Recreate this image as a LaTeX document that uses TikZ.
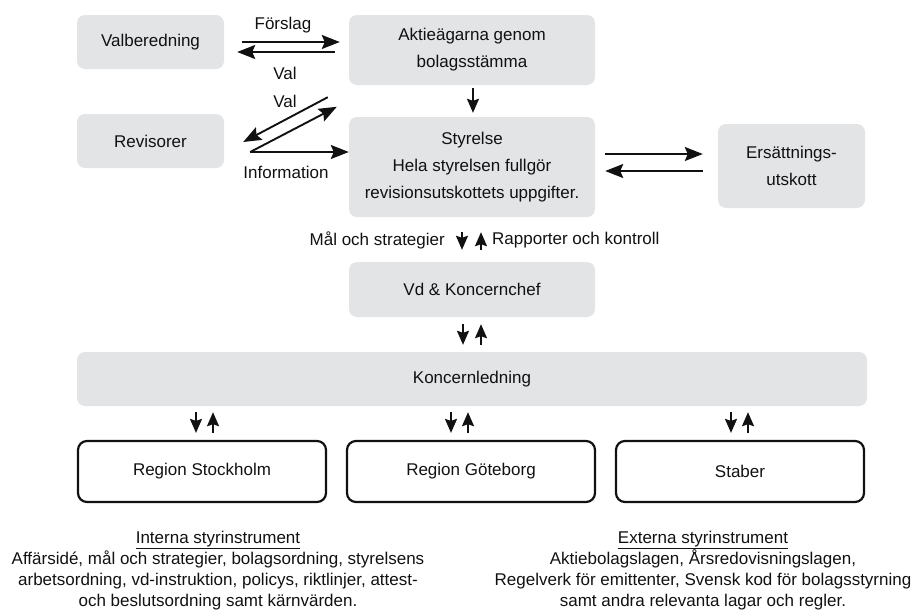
\documentclass[tikz,border=0pt]{standalone}
\usepackage{fontspec}
\setmainfont{Liberation Sans}
\usetikzlibrary{arrows.meta,calc}
\definecolor{boxgray}{HTML}{E2E4E5}
\definecolor{ink}{HTML}{111111}
\tikzstyle{box}=[fill=boxgray,rounded corners=8pt,inner sep=0pt,align=center,text=ink]
\tikzstyle{region}=[draw=ink,line width=2.2pt,rounded corners=9pt,minimum width=248pt,minimum height=61pt,inner sep=0pt,text=ink]
\tikzstyle{arr}=[draw=ink,line width=1.9pt,-{Stealth[length=18pt,width=14pt,inset=3pt]}]
\tikzstyle{small arr}=[draw=ink,line width=1.9pt,-{Stealth[length=14pt,width=12pt,inset=2pt]}]
\tikzstyle{tag}=[text=ink,inner sep=0pt]
\tikzstyle{notes}=[text=ink,inner sep=0pt,align=center,font=\fontsize{17}{21}\selectfont]

\begin{document}
\begin{tikzpicture}[x=1pt,y=-1pt,font=\fontsize{17}{27}\selectfont]
  \useasboundingbox (0,0) rectangle (914,614);
  % We draw the grey boxes
  \foreach \pos/\w/\h/\name/\txt in {{(150.5,42)/147/54/valb/Valberedning},
      {(472,50)/246/70/aktie/{Aktieägarna genom\\bolagsstämma}},
      {(150.5,141)/147/54/revis/Revisorer},
      {(472,167)/246/100/styr/{Styrelse\\Hela styrelsen fullgör\\revisionsutskottets uppgifter.}},
      {(791.5,166)/147/84/ers/{Ersättnings-\\utskott}},
      {(472,289.5)/246/55/vd/{Vd \& Koncernchef}},
      {(472,379)/790/54/koncern/Koncernledning}} {
    \node[box,minimum width=\w pt,minimum height=\h pt] (\name) at \pos {\txt};
  }
  % Then the regions
  \foreach \pos/\name/\txt in {{(202,471.5)/stock/Region Stockholm}, {(471,471.5)/gbg/Region Göteborg}, {(740,471.5)/staber/Staber}}
    \node[region] (\name) at \pos {\txt};

  % Valberedning and Revisorer
  \draw[arr] ($(valb.east)+(18,0)$) -- ($(aktie.west |- valb.east)+(-9,0)$);
  \draw[arr] ($(aktie.west |- valb.east)+(-14,10)$) -- ($(valb.east)+(13,10)$);
  \node[tag] (forslag) at (283,25) {Förslag};
  \node[tag] (val1) at (285,73) {Val};

  \coordinate (info) at ($(revis.east)+(26,11)$);
  \draw[arr] ($(aktie.south west)+(-21,12)$) -- ($(revis.east)+(19,1)$);
  \draw[arr] (info) -- ($(styr.north west)+(-12,-10)$);
  \draw[arr] (info) -- (info -| styr.west);
  \node[tag] (val2) at (285,101) {Val};
  \node[tag] (information) at (286,172) {Information};

  \draw[small arr] ($(aktie.south)+(1,3)$) -- ($(styr.north)+(1,-4)$);

  % Ersättningsutskott
  \draw[arr] ($(styr.east)+(10,-13)$) -- ($(ers.west |- styr.east)+(-15,-13)$);
  \draw[arr] ($(ers.west |- styr.east)+(-15,4)$) -- ($(styr.east)+(10,4)$);

  % Down the chain
  \draw[small arr] ($(styr.south)+(-10,15)$) -- ($(vd.north)+(-10,-12)$);
  \draw[small arr] ($(vd.north)+(9,-12)$) -- ($(styr.south)+(9,15)$);
  \node[tag,anchor=east] (mal) at ($(styr.south)+(-27,23)$) {Mål och strategier};
  \node[tag,anchor=west] (rapp) at ($(styr.south)+(20,23)$) {Rapporter och kontroll};

  \draw[small arr] ($(vd.south)+(-9,7)$) -- ($(koncern.north)+(-9,-7)$);
  \draw[small arr] ($(koncern.north)+(9,-7)$) -- ($(vd.south)+(9,7)$);

  \foreach \reg/\dx in {stock/-6, gbg/-20, staber/-9} {
    \draw[small arr] ($(koncern.south -| \reg.north)+(\dx,6)$) -- ($(\reg.north)+(\dx,-7)$);
    \draw[small arr] ($(\reg.north)+(\dx+17,-7)$) -- ($(koncern.south -| \reg.north)+(\dx+17,6)$);
  }

  % Styrinstrument
  \node[notes] (interna) at (218,570.5) {\underline{Interna styrinstrument}\\Affärsidé, mål och strategier, bolagsordning, styrelsens\\arbetsordning, vd-instruktion, policys, riktlinjer, attest-\\och beslutsordning samt kärnvärden.};
  \node[notes] (externa) at (703,570.5) {\underline{Externa styrinstrument}\\Aktiebolagslagen, Årsredovisningslagen,\\Regelverk för emittenter, Svensk kod för bolagsstyrning\\samt andra relevanta lagar och regler.};
\end{tikzpicture}
\end{document}
